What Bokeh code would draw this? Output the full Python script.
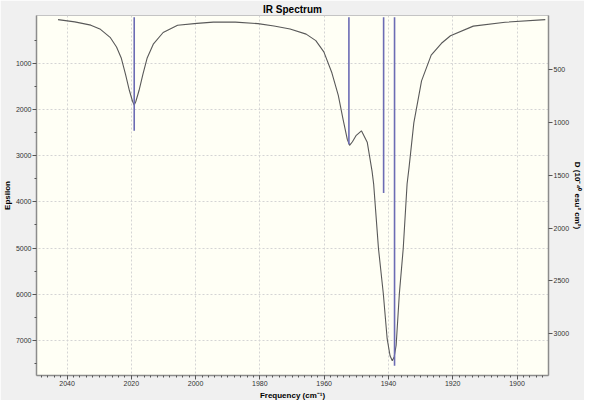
from bokeh.plotting import figure
from bokeh.models import Range1d, LinearAxis, FixedTicker, Title
from bokeh.embed import file_html
from bokeh.resources import INLINE

# broadened spectrum (Epsilon, left axis)
freq = [2042.8, 2037.6, 2032.6, 2029.6, 2026.6, 2024.6, 2023.1, 2021.8, 2020.6,
        2019.6, 2019.1, 2018.6, 2017.6, 2016.4, 2015.1, 2013.1, 2010.1, 2005.6,
        1999.6, 1994.5, 1987.6, 1980.6, 1975.6, 1970.6, 1965.6, 1962.6, 1960.1,
        1957.6, 1955.6, 1954.1, 1952.8, 1952.1, 1951.2, 1950.1, 1948.4, 1946.6,
        1945.1, 1944.6, 1943.1, 1941.6, 1940.4, 1939.5, 1938.8, 1938.2, 1937.6,
        1936.6, 1935.4, 1934.2, 1933.6, 1932.1, 1929.7, 1926.7, 1923.5, 1920.7,
        1913.6, 1903.7, 1891.2]
epsilon = [59, 107, 178, 268, 441, 651, 895, 1245, 1592,
           1830, 1906, 1830, 1592, 1245, 895, 582, 337, 180,
           140, 112, 112, 145, 195, 260, 372, 513, 755,
           1209, 1697, 2220, 2650, 2778, 2700, 2569, 2464, 2709,
           3337, 3615, 5010, 5985, 6962, 7330, 7437, 7350, 7103,
           5985, 5010, 3615, 3266, 2291, 1383, 826, 570, 408,
           199, 115, 59]

# stick spectrum (dipole strength D, right axis)
stick_freq = [2019.1, 1952.3, 1941.5, 1938.1]
stick_d = [1077, 1205, 1666, 3305]

x_ticks = [2040, 2020, 2000, 1980, 1960, 1940, 1920, 1900]
eps_ticks = [1000, 2000, 3000, 4000, 5000, 6000, 7000]
d_ticks = [500, 1000, 1500, 2000, 2500, 3000]

FONT = "Liberation Sans"
TICK_SIZE = "7px"
LABEL_SIZE = "8px"

p = figure(
    width=584,
    height=400,
    title="IR Spectrum",
    x_range=Range1d(2049.5, 1890.2),
    y_range=Range1d(7758, -31),
    output_backend="svg",
    toolbar_location=None,
    background_fill_color="#fffff5",
    border_fill_color="#f0f0f0",
    outline_line_color="#c4c4c4",
    min_border_top=0,
    min_border_bottom=0,
    min_border_left=0,
    min_border_right=0,
)
p.extra_y_ranges = {"D": Range1d(3397, -16)}

p.title.align = "center"
p.title.text_font = FONT
p.title.text_font_size = "10px"
p.title.text_font_style = "bold"
p.title.text_color = "#000000"
p.title.standoff = 2
p.title.offset = 0

p.xaxis.ticker = FixedTicker(ticks=x_ticks, minor_ticks=[1892 + 2 * i for i in range(79)])
p.yaxis.ticker = FixedTicker(ticks=eps_ticks, minor_ticks=[500 + 1000 * i for i in range(8)])

d_axis = LinearAxis(y_range_name="D", ticker=FixedTicker(ticks=d_ticks, minor_ticks=[]))
p.add_layout(d_axis, "right")

for ax in p.axis:
    ax.axis_line_color = "#8c8c8c"
    ax.axis_line_width = 1.5
    ax.major_tick_in = 0
    ax.major_tick_out = 4
    ax.minor_tick_in = 0
    ax.minor_tick_out = 2
    ax.major_tick_line_color = "#555555"
    ax.minor_tick_line_color = "#555555"
    ax.major_label_text_font = FONT
    ax.major_label_text_font_size = TICK_SIZE
    ax.major_label_text_color = "#333333"
    ax.major_label_standoff = 1

# axis titles as side titles, which take less room than axis labels here
for text, side in [
    ("Frequency (cm\u207b\u00b9)", "below"),
    ("Epsilon", "left"),
    ("D (10\u207b\u2074\u2070 esu\u00b2 cm\u00b2)", "right"),
]:
    t = Title(
        text=text,
        align="center",
        text_font=FONT,
        text_font_size=LABEL_SIZE,
        text_font_style="bold",
        text_color="#000000",
        standoff=1,
        offset=0,
    )
    p.add_layout(t, side)

p.grid.grid_line_color = "#d4d4d4"
p.grid.grid_line_dash = "2 2"
p.grid.grid_line_width = 1

p.line(freq, epsilon, line_color="#595959", line_width=1.1)
p.segment(
    x0=stick_freq,
    y0=[0] * len(stick_freq),
    x1=stick_freq,
    y1=stick_d,
    y_range_name="D",
    line_color="#6c6cb4",
    line_width=1.6,
)

open("out.html", "w").write(file_html(p, INLINE))
